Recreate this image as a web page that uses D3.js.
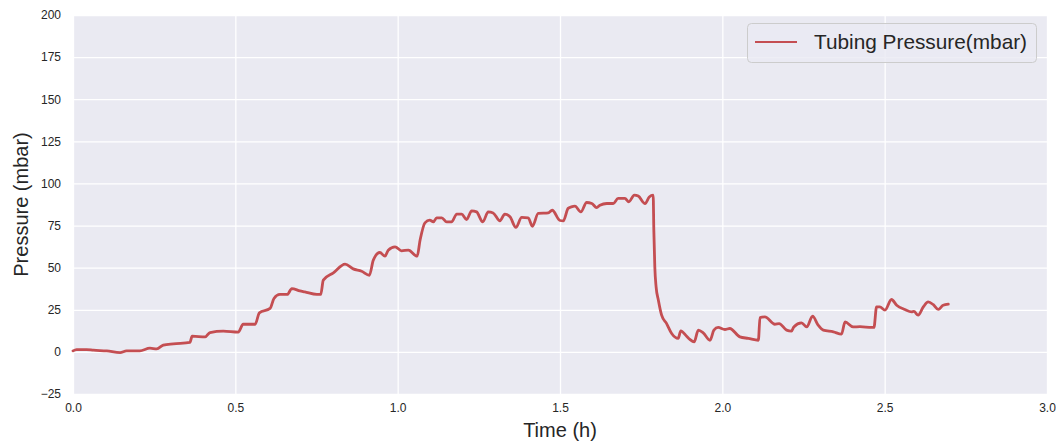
<!DOCTYPE html>
<html><head><meta charset="utf-8">
<script src="https://cdn.jsdelivr.net/npm/d3@7"></script>
<style>
html,body{margin:0;padding:0;background:#fff;}
text{font-family:"Liberation Sans",Arial,sans-serif;}
</style></head>
<body><svg id="c" width="1056" height="443"></svg>
<script>
// Data: time (h) and tubing pressure (mbar)
const timeH = [0.000,0.011,0.042,0.063,0.104,0.145,0.165,0.206,0.237,0.258,0.278,0.309,0.360,0.367,0.407,0.422,0.463,0.509,0.524,0.561,0.574,0.607,0.619,0.637,0.660,0.674,0.699,0.714,0.751,0.763,0.771,0.802,0.838,0.863,0.889,0.913,0.925,0.945,0.961,0.971,0.992,1.012,1.033,1.060,1.069,1.084,1.099,1.110,1.120,1.136,1.151,1.166,1.182,1.197,1.212,1.228,1.243,1.262,1.279,1.294,1.315,1.330,1.346,1.364,1.382,1.402,1.415,1.433,1.464,1.476,1.500,1.510,1.525,1.535,1.546,1.564,1.582,1.598,1.613,1.623,1.644,1.664,1.679,1.700,1.712,1.729,1.741,1.762,1.775,1.787,1.789,1.792,1.796,1.803,1.813,1.828,1.844,1.864,1.872,1.890,1.900,1.913,1.926,1.941,1.962,1.974,1.987,2.008,2.023,2.054,2.080,2.111,2.116,2.131,2.162,2.175,2.198,2.213,2.220,2.244,2.260,2.278,2.295,2.311,2.342,2.367,2.378,2.403,2.424,2.460,2.467,2.475,2.485,2.501,2.521,2.537,2.562,2.583,2.590,2.603,2.619,2.634,2.650,2.665,2.680,2.696];
const pressure = [0.6,1.4,1.4,1.0,0.6,-0.4,0.6,0.6,2.2,1.8,4.0,4.8,5.6,9.3,8.9,11.5,12.3,11.7,16.4,16.4,23.2,25.8,31.7,34.1,34.1,37.6,36.2,35.6,34.1,34.1,42.6,46.9,52.1,49.3,47.9,45.5,54.5,59.0,56.8,60.4,62.4,60.0,60.4,56.8,66.3,76.6,78.2,77.2,79.6,79.6,77.2,77.2,81.8,81.8,78.6,83.7,83.1,77.2,83.1,82.5,77.8,81.8,80.2,73.9,79.8,79.6,74.6,82.2,82.5,84.1,78.0,77.8,85.2,86.1,86.5,83.1,88.7,88.1,85.7,87.1,88.1,88.1,91.1,91.1,89.1,93.1,92.5,88.1,92.0,93.1,72.3,50.5,38.6,30.7,21.8,16.9,10.9,8.0,12.5,9.3,7.4,5.9,12.9,11.3,6.9,12.9,14.5,13.3,13.9,8.9,8.0,6.9,20.4,20.8,16.4,16.8,12.9,12.3,14.8,17.2,14.8,21.2,15.9,12.9,11.9,10.5,17.8,14.8,15.0,14.5,14.5,26.7,26.7,24.8,31.1,27.7,25.2,23.8,24.0,21.8,26.7,29.7,28.0,25.2,27.7,28.3];
const xTicks = [0.0,0.5,1.0,1.5,2.0,2.5,3.0];
const yTicks = [-25,0,25,50,75,100,125,150,175,200];
const seriesName = "Tubing Pressure(mbar)";

const svg = d3.select("#c");
const L = 73, R = 1047, T = 15, B = 394;
const x = d3.scaleLinear().domain([0,3]).range([L,R]);
const y = d3.scaleLinear().domain([-25,200]).range([B,T]);

svg.append("rect").attr("x",L).attr("y",T).attr("width",R-L).attr("height",B-T).attr("fill","#EAEAF2");

// grid
const gx = svg.append("g").attr("transform",`translate(0,${B})`)
  .call(d3.axisBottom(x).tickValues(xTicks).tickFormat(d3.format(".1f")).tickSize(-(B-T)).tickPadding(9));
const gy = svg.append("g").attr("transform",`translate(${L},0)`)
  .call(d3.axisLeft(y).tickValues(yTicks).tickFormat(d3.format("d")).tickSize(-(R-L)).tickPadding(12));
[gx,gy].forEach(g=>{
  g.select(".domain").remove();
  g.selectAll(".tick line").attr("stroke","#fff").attr("stroke-width",1.3);
  g.selectAll(".tick text").attr("fill","#262626").attr("font-size",12).attr("font-family","Liberation Sans, Arial, sans-serif");
});
gy.selectAll(".tick text").text(d=> d<0 ? "\u2212"+Math.abs(d) : d);

// line
const line = d3.line().x((d,i)=>x(timeH[i])).y(d=>y(d)).curve(d3.curveMonotoneX);
svg.append("path").datum(pressure).attr("d",line)
  .attr("fill","none").attr("stroke","#C44E52").attr("stroke-width",2.8)
  .attr("stroke-linejoin","round").attr("stroke-linecap","round");

// axis labels
svg.append("text").attr("x",(L+R)/2).attr("y",437).attr("text-anchor","middle")
  .attr("font-size",20).attr("fill","#262626").text("Time (h)");
svg.append("text").attr("transform",`translate(28,${(T+B)/2}) rotate(-90)`).attr("text-anchor","middle")
  .attr("font-size",20).attr("fill","#262626").text("Pressure (mbar)");

// legend
const lg = svg.append("g");
lg.append("rect").attr("x",747.5).attr("y",23.5).attr("width",289).attr("height",39).attr("rx",4)
  .attr("fill","#EAEAF2").attr("fill-opacity",0.8).attr("stroke","#CCCCCC").attr("stroke-width",1);
lg.append("line").attr("x1",755).attr("x2",797).attr("y1",42).attr("y2",42)
  .attr("stroke","#C44E52").attr("stroke-width",2.2);
lg.append("text").attr("x",814).attr("y",49).attr("font-size",20.8).attr("fill","#262626").text(seriesName);
</script></body></html>
